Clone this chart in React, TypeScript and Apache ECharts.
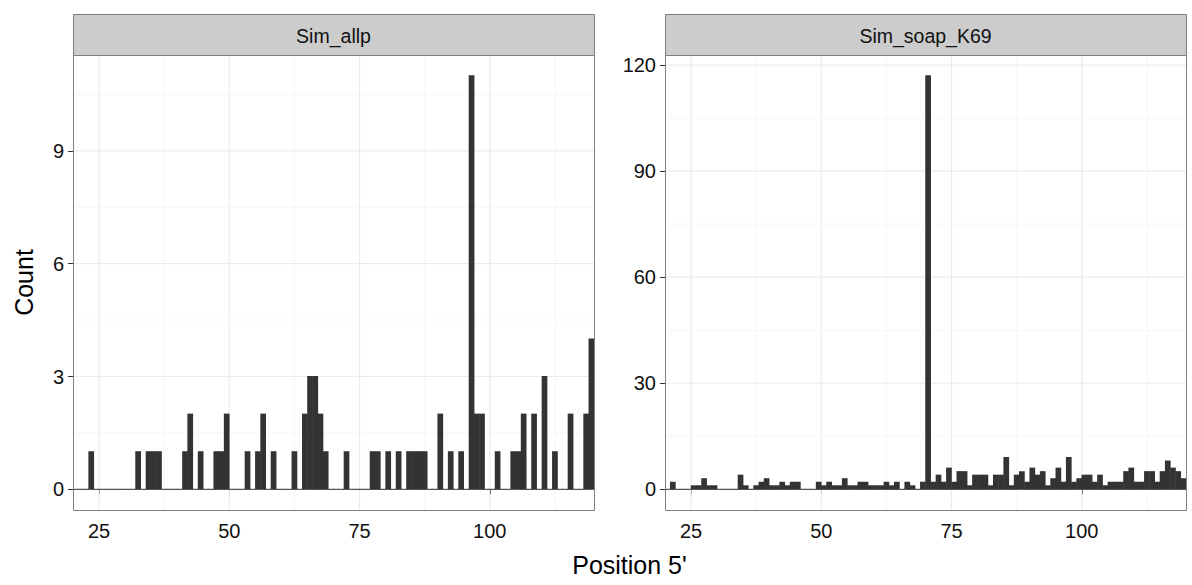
import React, { useEffect, useRef } from "react";
import * as echarts from "echarts";

// ---- data ----
const binStarts = [
  20, 21, 22, 23, 24, 25, 26, 27, 28, 29,
  30, 31, 32, 33, 34, 35, 36, 37, 38, 39,
  40, 41, 42, 43, 44, 45, 46, 47, 48, 49,
  50, 51, 52, 53, 54, 55, 56, 57, 58, 59,
  60, 61, 62, 63, 64, 65, 66, 67, 68, 69,
  70, 71, 72, 73, 74, 75, 76, 77, 78, 79,
  80, 81, 82, 83, 84, 85, 86, 87, 88, 89,
  90, 91, 92, 93, 94, 95, 96, 97, 98, 99,
  100, 101, 102, 103, 104, 105, 106, 107, 108, 109,
  110, 111, 112, 113, 114, 115, 116, 117, 118, 119,
];
const binWidth = 1;

const simAllpCounts = [
  0, 0, 0, 1, 0, 0, 0, 0, 0, 0,
  0, 0, 1, 0, 1, 1, 1, 0, 0, 0,
  0, 1, 2, 0, 1, 0, 0, 1, 1, 2,
  0, 0, 0, 1, 0, 1, 2, 0, 1, 0,
  0, 0, 1, 0, 2, 3, 3, 2, 1, 0,
  0, 0, 1, 0, 0, 0, 0, 1, 1, 0,
  1, 0, 1, 0, 1, 1, 1, 1, 0, 0,
  2, 0, 1, 0, 1, 0, 11, 2, 2, 0,
  0, 1, 0, 0, 1, 1, 2, 0, 2, 0,
  3, 0, 1, 0, 0, 2, 0, 0, 2, 4,
];

const simSoapK69Counts = [
  0, 2, 0, 0, 0, 1, 1, 3, 1, 1,
  0, 0, 0, 0, 4, 1, 0, 1, 2, 3,
  1, 1, 2, 1, 2, 2, 0, 0, 0, 2,
  1, 2, 1, 1, 3, 1, 1, 2, 2, 1,
  1, 1, 2, 1, 2, 0, 2, 1, 0, 2,
  117, 2, 4, 2, 6, 2, 5, 5, 1, 4,
  4, 4, 1, 4, 4, 9, 1, 4, 5, 2,
  6, 4, 5, 1, 3, 6, 2, 9, 2, 3,
  4, 4, 2, 4, 1, 2, 2, 2, 5, 6,
  2, 2, 5, 5, 2, 5, 8, 6, 5, 3,
];

const panelNames = ["Sim_allp", "Sim_soap_K69"];
const xLabel = "Position 5'";
const yLabel = "Count";

const xLimits = [20, 120];
const xTicks = [25, 50, 75, 100];
const xMinor = [37.5, 62.5, 87.5, 112.5];

const yLimitsLeft = [-0.55, 11.55];
const yTicksLeft = [0, 3, 6, 9];
const yMinorLeft = [1.5, 4.5, 7.5, 10.5];

const yLimitsRight = [-5.85, 122.85];
const yTicksRight = [0, 30, 60, 90, 120];
const yMinorRight = [15, 45, 75, 105];

// ---- layout / style ----
const FONT = "Liberation Sans, Arial, Helvetica, sans-serif";
const PANELS = [
  { left: 73, top: 55, width: 521, height: 455 },
  { left: 665, top: 55, width: 521, height: 455 },
];
const STRIP_TOP = 14;
const BAR = "#333333";
const BORDER = "#7F7F7F";
const MAJOR = "#EBEBEB";
const MINOR = "#F6F6F6";
const TEXT = "#111111";

function gridLineSeries(gridIndex: number, vertical: number[], vMajor: number[], horizontal: number[], hMajor: number[]) {
  const data: any[] = [];
  vMajor.forEach((v) => data.push([v, 0, 1, 0]));
  vertical.forEach((v) => data.push([v, 0, 0, 0]));
  hMajor.forEach((v) => data.push([xLimits[0], v, 1, 1]));
  horizontal.forEach((v) => data.push([xLimits[0], v, 0, 1]));
  return {
    type: "custom",
    xAxisIndex: gridIndex,
    yAxisIndex: gridIndex,
    silent: true,
    z: 1,
    data,
    renderItem: (params: any, api: any) => {
      const cs = params.coordSys;
      const major = api.value(2) === 1;
      const horiz = api.value(3) === 1;
      const p = api.coord([api.value(0), api.value(1)]);
      const shape = horiz
        ? { x1: cs.x, y1: p[1], x2: cs.x + cs.width, y2: p[1] }
        : { x1: p[0], y1: cs.y, x2: p[0], y2: cs.y + cs.height };
      return {
        type: "line",
        shape,
        style: { stroke: major ? MAJOR : MINOR, lineWidth: major ? 1.2 : 1 },
      };
    },
  };
}

function barSeries(gridIndex: number, counts: number[]) {
  return {
    type: "custom",
    xAxisIndex: gridIndex,
    yAxisIndex: gridIndex,
    clip: true,
    z: 2,
    data: binStarts.map((b, i) => [b, counts[i]]),
    renderItem: (_params: any, api: any) => {
      const x0 = api.value(0);
      const c = api.value(1);
      const p0 = api.coord([x0, 0]);
      const p1 = api.coord([x0 + binWidth, c]);
      const left = p0[0];
      const right = p1[0];
      const top = p1[1];
      const bottom = p0[1];
      return {
        type: "rect",
        shape: { x: left - 0.25, y: top - 0.5, width: right - left + 0.5, height: bottom - top + 1 },
        style: { fill: BAR },
      };
    },
  };
}

function xAxis(gridIndex: number) {
  return {
    type: "value",
    gridIndex,
    min: xLimits[0],
    max: xLimits[1],
    axisLine: { show: false },
    splitLine: { show: false },
    axisTick: { show: true, customValues: xTicks, length: 5, lineStyle: { color: "#333333", width: 1 } },
    axisLabel: { customValues: xTicks, color: TEXT, fontSize: 20, fontFamily: FONT, margin: 11 },
  };
}

function yAxis(gridIndex: number, lim: number[], ticks: number[]) {
  return {
    type: "value",
    gridIndex,
    min: lim[0],
    max: lim[1],
    axisLine: { show: false },
    splitLine: { show: false },
    axisTick: { show: true, customValues: ticks, length: 5, lineStyle: { color: "#333333", width: 1 } },
    axisLabel: { customValues: ticks, color: TEXT, fontSize: 20, fontFamily: FONT, margin: 9 },
  };
}

export default function App() {
  const ref = useRef<HTMLDivElement>(null);

  useEffect(() => {
    if (!ref.current) return;
    const chart = echarts.init(ref.current, undefined, { renderer: "svg" });

    const graphics: any[] = [];
    PANELS.forEach((p, i) => {
      graphics.push({
        type: "rect",
        z: 100,
        shape: { x: p.left + 0.5, y: STRIP_TOP + 0.5, width: p.width, height: p.top - STRIP_TOP },
        style: { fill: "#CCCCCC", stroke: BORDER, lineWidth: 1 },
      });
      graphics.push({
        type: "text",
        z: 101,
        x: p.left + p.width / 2,
        y: (STRIP_TOP + p.top) / 2 + 1,
        style: {
          text: panelNames[i],
          fill: TEXT,
          font: `19.5px ${FONT}`,
          textAlign: "center",
          textVerticalAlign: "middle",
        },
      });
      graphics.push({
        type: "rect",
        z: 100,
        shape: { x: p.left + 0.5, y: p.top + 0.5, width: p.width, height: p.height },
        style: { fill: "none", stroke: BORDER, lineWidth: 1 },
      });
    });
    graphics.push({
      type: "text",
      z: 101,
      x: 24,
      y: PANELS[0].top + PANELS[0].height / 2,
      rotation: Math.PI / 2,
      style: { text: yLabel, fill: "#000000", font: `25px ${FONT}`, textAlign: "center", textVerticalAlign: "middle" },
    });
    graphics.push({
      type: "text",
      z: 101,
      x: (PANELS[0].left + PANELS[1].left + PANELS[1].width) / 2,
      y: 565,
      style: { text: xLabel, fill: "#000000", font: `25px ${FONT}`, textAlign: "center", textVerticalAlign: "middle" },
    });

    chart.setOption({
      animation: false,
      backgroundColor: "#FFFFFF",
      grid: PANELS.map((p) => ({
        left: p.left,
        top: p.top,
        width: p.width,
        height: p.height,
        show: true,
        backgroundColor: "#FFFFFF",
        borderWidth: 0,
      })),
      xAxis: [xAxis(0), xAxis(1)],
      yAxis: [yAxis(0, yLimitsLeft, yTicksLeft), yAxis(1, yLimitsRight, yTicksRight)],
      graphic: graphics,
      series: [
        gridLineSeries(0, xMinor, xTicks, yMinorLeft, yTicksLeft),
        gridLineSeries(1, xMinor, xTicks, yMinorRight, yTicksRight),
        barSeries(0, simAllpCounts),
        barSeries(1, simSoapK69Counts),
      ],
    });

    return () => chart.dispose();
  }, []);

  return (
    <div
      ref={ref}
      style={{ position: "fixed", left: 0, top: 0, width: 1192, height: 585, background: "#fff" }}
    />
  );
}
